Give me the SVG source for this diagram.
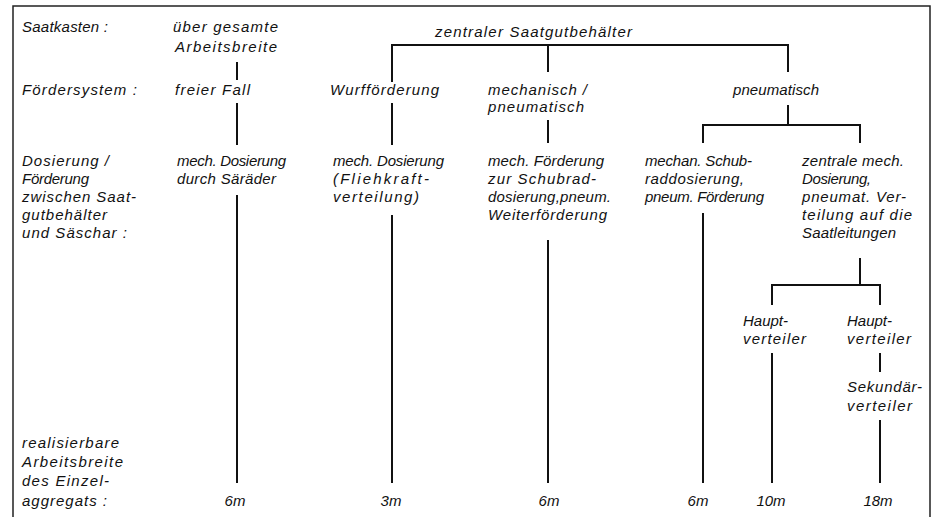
<svg xmlns="http://www.w3.org/2000/svg" width="933" height="517" viewBox="0 0 933 517">
<style>
text{font-family:"Liberation Sans",Arial,sans-serif;font-style:italic;font-size:15px;fill:#111}
.c{text-anchor:middle}
.ln{stroke:#111;stroke-width:2;fill:none;stroke-linecap:butt}
.bd{stroke:#222;stroke-width:1.5;fill:none}
</style>
<rect width="933" height="517" fill="#fff"/>
<g id="frame"><path class="bd" d="M13 517V6H930V517"/></g>
<g id="row-labels">
<text x="22" y="32" textLength="86">Saatkasten :</text>
<text x="22" y="95" textLength="115">Fördersystem :</text>
<text x="22" y="166" textLength="87">Dosierung /</text>
<text x="22" y="184" textLength="67">Förderung</text>
<text x="22" y="202" textLength="114">zwischen Saat-</text>
<text x="22" y="220" textLength="85">gutbehälter</text>
<text x="22" y="238" textLength="105">und Säschar :</text>
<text x="22" y="448" textLength="97">realisierbare</text>
<text x="22" y="467" textLength="101">Arbeitsbreite</text>
<text x="22" y="486" textLength="87">des Einzel-</text>
<text x="22" y="506" textLength="85">aggregats :</text>
</g>
<g id="n-ueber"><text x="173" y="32" textLength="105">über gesamte</text><text x="175" y="52" textLength="102">Arbeitsbreite</text></g>
<g id="n-zentral"><text x="435" y="37" textLength="197">zentraler Saatgutbehälter</text></g>
<g id="n-freier"><text x="175" y="95" textLength="75">freier Fall</text></g>
<g id="n-wurf"><text x="330" y="95" textLength="109">Wurfförderung</text></g>
<g id="n-mechpneu"><text x="488" y="95" textLength="99">mechanisch /</text><text x="488" y="112" textLength="96">pneumatisch</text></g>
<g id="n-pneu"><text x="733" y="95" textLength="86">pneumatisch</text></g>
<g id="n-d1"><text x="177" y="166" textLength="109">mech. Dosierung</text><text x="177" y="184" textLength="99">durch Säräder</text></g>
<g id="n-d2"><text x="333" y="166" textLength="111">mech. Dosierung</text><text x="333" y="184" textLength="96">(Fliehkraft-</text><text x="333" y="202" textLength="86">verteilung)</text></g>
<g id="n-d3"><text x="488" y="166" textLength="116">mech. Förderung</text><text x="488" y="184" textLength="108">zur Schubrad-</text><text x="488" y="202" textLength="123">dosierung,pneum.</text><text x="488" y="220" textLength="119">Weiterförderung</text></g>
<g id="n-d4"><text x="645" y="166" textLength="107">mechan. Schub-</text><text x="645" y="184" textLength="99">raddosierung,</text><text x="645" y="202" textLength="119">pneum. Förderung</text></g>
<g id="n-d5"><text x="802" y="166" textLength="102">zentrale mech.</text><text x="802" y="184" textLength="69">Dosierung,</text><text x="802" y="202" textLength="104">pneumat. Ver-</text><text x="802" y="220" textLength="110">teilung auf die</text><text x="802" y="238" textLength="94">Saatleitungen</text></g>
<g id="n-haupt1"><text x="743" y="326" textLength="45">Haupt-</text><text x="743" y="344" textLength="63">verteiler</text></g>
<g id="n-haupt2"><text x="847" y="326" textLength="45">Haupt-</text><text x="847" y="344" textLength="64">verteiler</text></g>
<g id="n-sek"><text x="847" y="392" textLength="75">Sekundär-</text><text x="847" y="411" textLength="65">verteiler</text></g>
<g id="n-w1"><text class="c" x="235" y="506">6m</text></g>
<g id="n-w2"><text class="c" x="391" y="506">3m</text></g>
<g id="n-w3"><text class="c" x="549" y="506">6m</text></g>
<g id="n-w4"><text class="c" x="698" y="506">6m</text></g>
<g id="n-w5"><text class="c" x="771" y="506">10m</text></g>
<g id="n-w6"><text class="c" x="878" y="506">18m</text></g>
<g id="connectors">
<path class="ln" d="M392 82V45H788V72M548 45V72"/>
<path class="ln" d="M237 62V80M237 103V145M237 195V483"/>
<path class="ln" d="M392 103V145M392 215V483"/>
<path class="ln" d="M548 120V143M548 240V483"/>
<path class="ln" d="M788 105V125M703 143V125H860V143M703 213V483"/>
<path class="ln" d="M860 258V285M772 305V285H880V305M772 353V483M880 353V372M880 420V483"/>
</g>
</svg>
